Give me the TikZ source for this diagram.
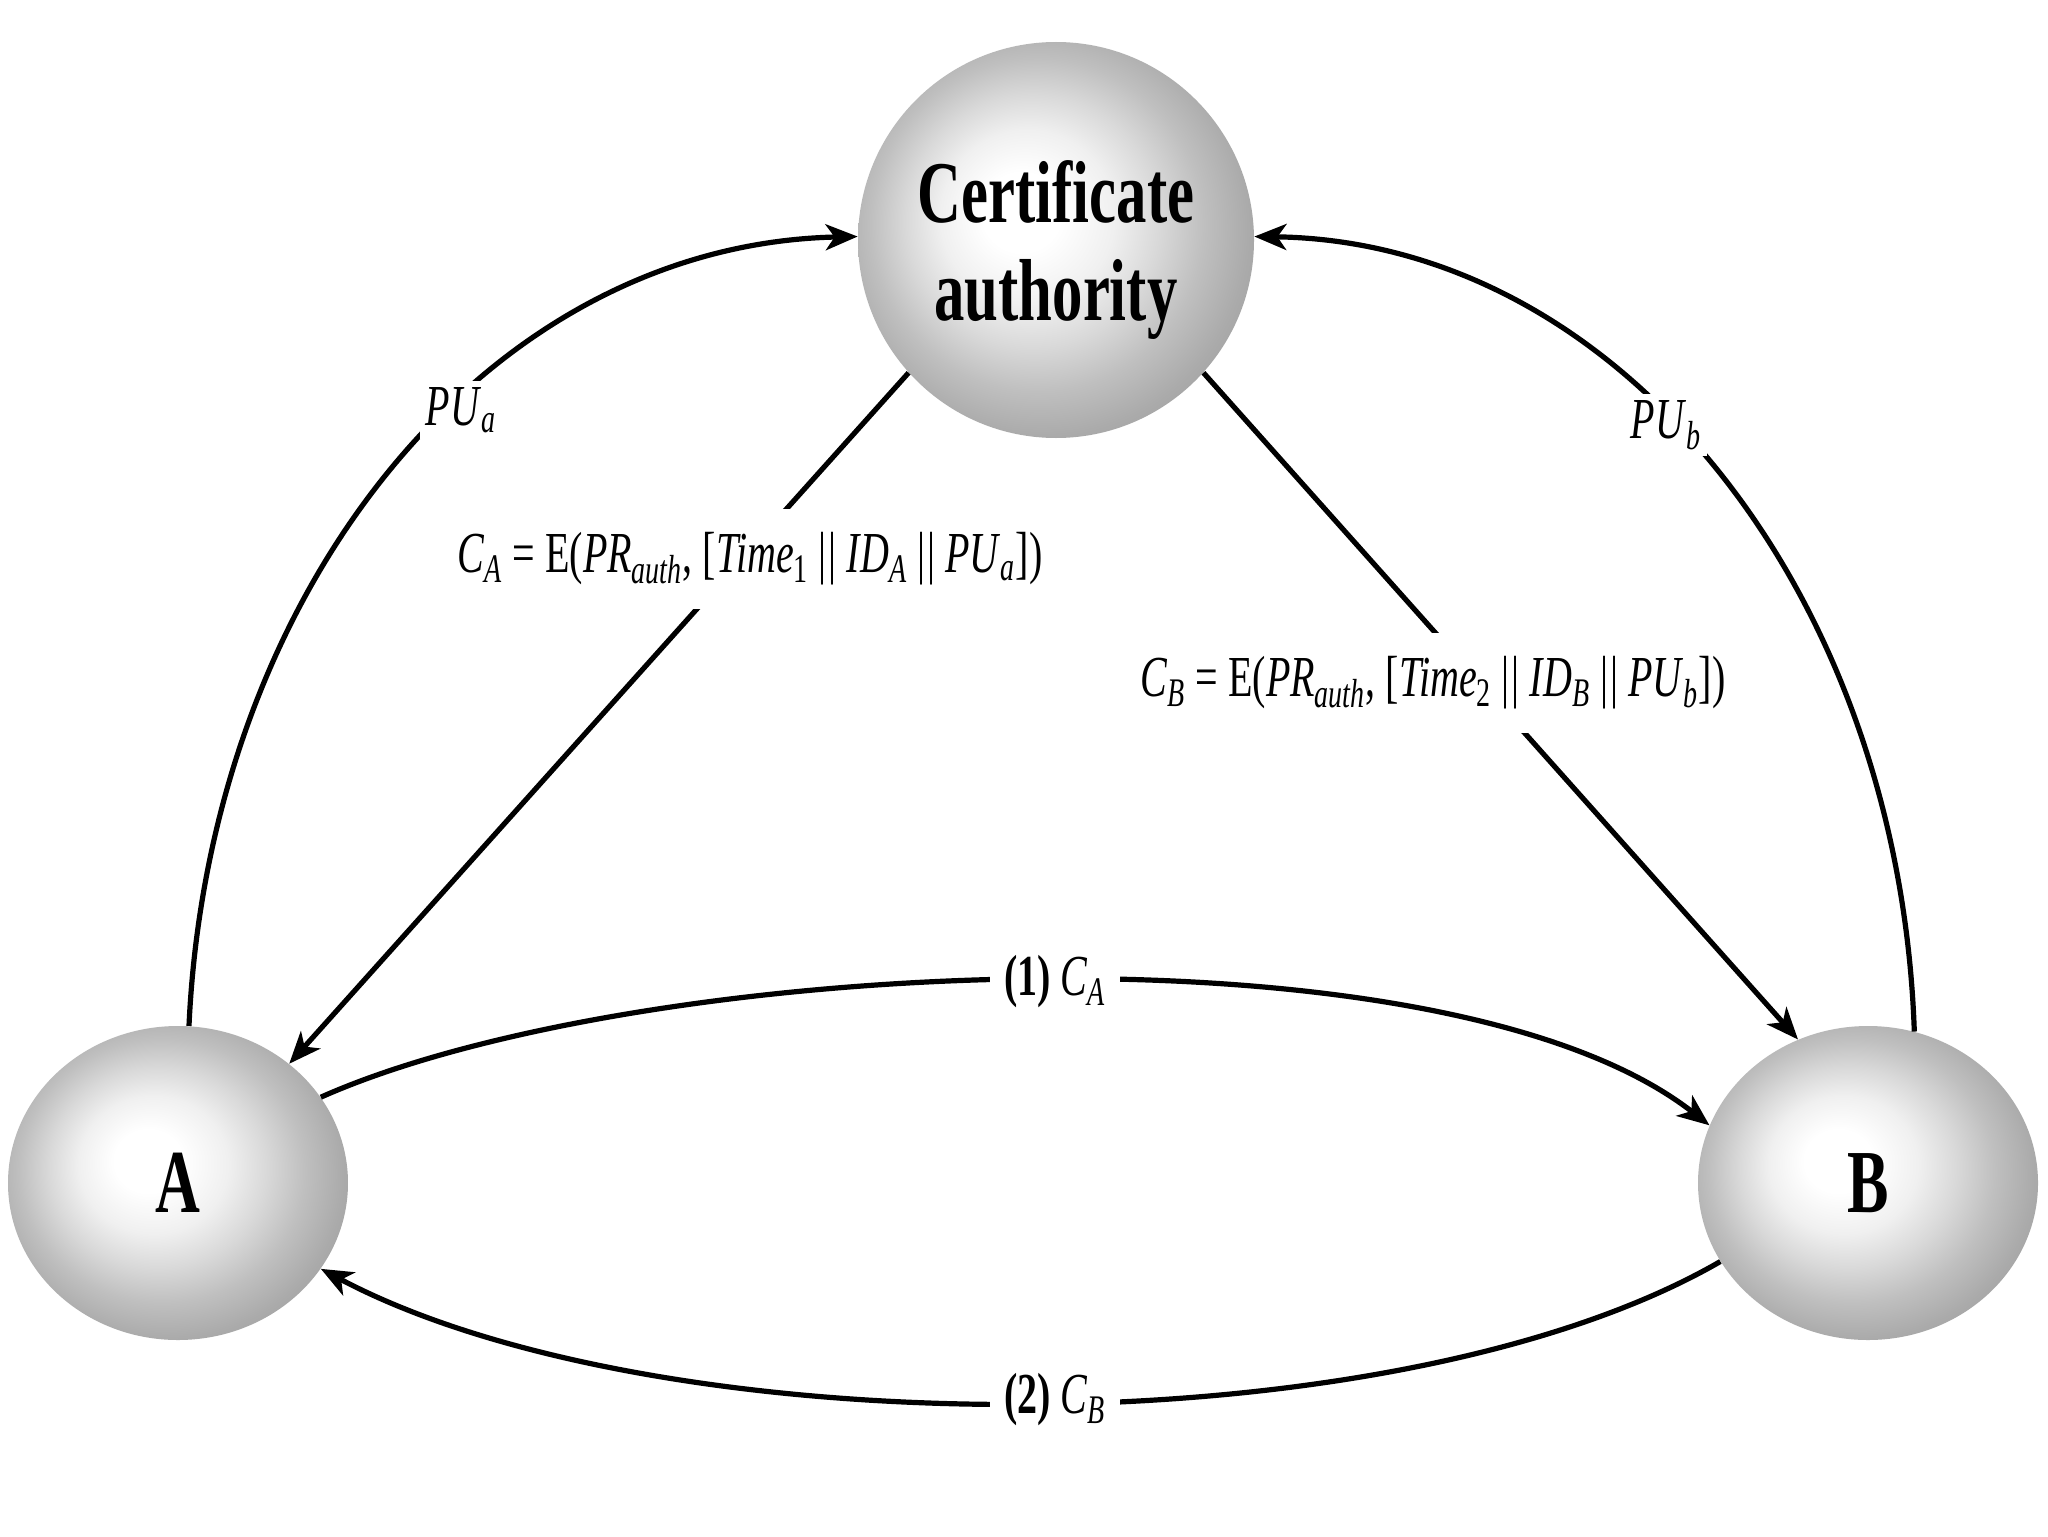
\documentclass[tikz,border=0pt]{standalone}
\usepackage{fontspec}
\setmainfont{Liberation Serif}[FakeStretch=0.69]
\usetikzlibrary{arrows.meta,shapes.geometric}
\pgfdeclareradialshading{sphere}{\pgfpoint{-5bp}{4bp}}{color(0bp)=(white); color(5bp)=(white); color(11bp)=(black!6); color(16bp)=(black!15); color(21bp)=(black!25); color(26bp)=(black!33); color(32bp)=(black!40); color(40bp)=(black!42)}
\newcommand\sbs[1]{\textsubscript{#1}}
\newcommand\dbar{\textbar\kern1pt\textbar}
\begin{document}
\begin{tikzpicture}[x=0.5pt,y=-0.5pt,
  ball/.style={shade, shading=sphere, draw=none, inner sep=0pt},
  conn/.style={line width=2.6pt, -{Stealth[length=16pt,width=13pt,inset=4.5pt]}},
  lbl/.style={fill=white, inner sep=3pt, font=\fontsize{29}{34}\selectfont},
  ]
\useasboundingbox[fill=white] (0,0) rectangle (2048,1536);
\node[ball, circle, minimum size=198pt,
  label={[name=CAtext, align=center, yshift=-5pt, font=\bfseries\fontsize{44}{49}\selectfont]center:Certificate\\authority}] (CA) at (1056,240) {};
\node[ball, ellipse, minimum width=170pt, minimum height=157pt, font=\bfseries\fontsize{45}{50}\selectfont] (A) at (178,1183) {A};
\node[ball, ellipse, minimum width=170pt, minimum height=157pt, font=\bfseries\fontsize{45}{50}\selectfont] (B) at (1868,1183) {B};

% public keys to CA
\draw[conn] (A.86) .. controls +(20,-437) and +(-370,8) .. (CA.179);
\draw[conn] (B.73) .. controls +(-15,-440) and +(365,5) .. (CA.1);
% certificates from CA
\draw[conn] (CA.222) -- (A.47);
\draw[conn] (CA.318) -- (B.116);
% exchange
\draw[conn] (A.31) .. controls +(312,-139) and +(-269,-210) .. (B.160);
\draw[conn] (B.208) .. controls +(-329,190) and +(335,178) .. (A.329);

% labels
\node[lbl] (lPUa) at (461,410) {\textit{PU}\sbs{\textit{a}}};
\node[lbl] (lPUb) at (1666,425) {\textit{PU}\sbs{\textit{b}}};
\node[lbl, inner ysep=12pt] (lCA) at (750,559) {\textit{C}\sbs{\textit{A}} = E(\textit{PR}\sbs{\textit{auth}}, [\textit{Time}\sbs{1} \dbar{} \textit{ID}\sbs{\textit{A}} \dbar{} \textit{PU}\sbs{\textit{a}}])};
\node[lbl, inner ysep=12pt] (lCB) at (1433,683) {\textit{C}\sbs{\textit{B}} = E(\textit{PR}\sbs{\textit{auth}}, [\textit{Time}\sbs{2} \dbar{} \textit{ID}\sbs{\textit{B}} \dbar{} \textit{PU}\sbs{\textit{b}}])};
\node[lbl, inner xsep=7pt] (l1) at (1055,982) {\textbf{(1)} \textit{C}\sbs{\textit{A}}};
\node[lbl, inner xsep=7pt] (l2) at (1055,1400) {\textbf{(2)} \textit{C}\sbs{\textit{B}}};
\end{tikzpicture}
\end{document}
